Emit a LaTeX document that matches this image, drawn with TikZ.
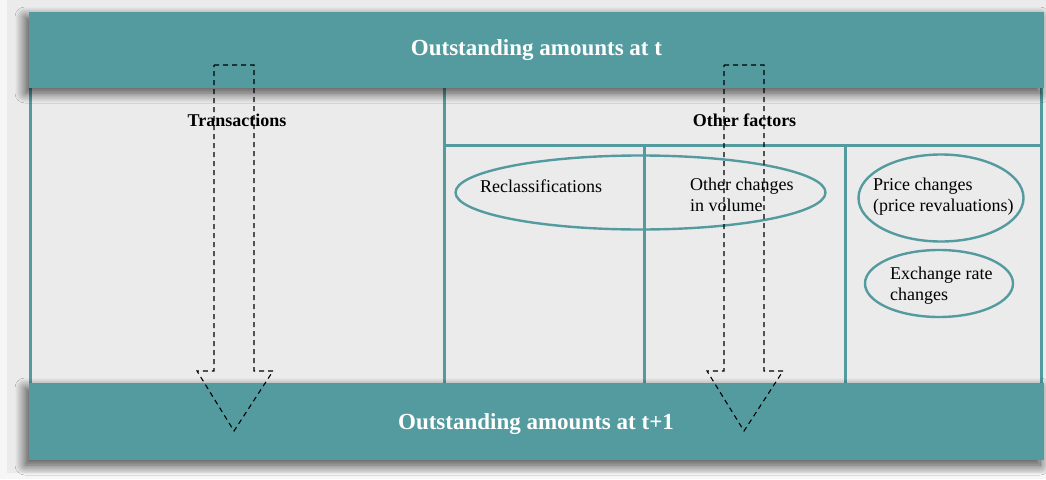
\documentclass[tikz,border=0pt]{standalone}
\usepackage{fontspec}
\setmainfont{Liberation Serif}
\usetikzlibrary{shadows.blur}
\definecolor{teal1}{HTML}{549BA0}
\definecolor{panel}{HTML}{EBEBEB}
\definecolor{outer}{HTML}{F6F6F6}
\tikzset{
  bar/.style={fill=teal1, draw=none, blur shadow={shadow xshift=-4pt, shadow yshift=-5pt, shadow blur radius=10pt, shadow blur steps=16, shadow opacity=70}},
  frameline/.style={draw=teal1, line width=3pt},
  oval/.style={draw=teal1, line width=2.4pt},
  bigtitle/.style={font=\fontsize{23}{27}\selectfont\bfseries, text=white, inner sep=0pt},
  head/.style={font=\fontsize{18}{21}\selectfont\bfseries, inner sep=0pt},
  body/.style={font=\fontsize{18}{21}\selectfont, inner sep=0pt, align=left},
  flowarrow/.style={draw=black, line width=1.1pt, dash pattern=on 5pt off 4pt}
}
\begin{document}
\begin{tikzpicture}[x=1pt,y=-1pt]
\useasboundingbox (0,0) rectangle (1046,479);
\fill[outer] (0,0) rectangle (1046,479);
\fill[panel] (7,0) rectangle (1046,473);
% frame
\fill[panel!102] (30,88) rectangle (1042,383);
\draw[frameline] (30.5,88) -- (30.5,383);
\draw[frameline] (1041.5,88) -- (1041.5,383);
\draw[frameline] (444,88) -- (444,383);
\draw[frameline] (444,145) -- (1041.5,145);
\draw[frameline] (644,145) -- (644,383);
\draw[frameline] (845,145) -- (845,383);
% bars
\path[bar] (29,12) rectangle (1044,88);
\path[bar] (29,383) rectangle (1044,460);
\node[bigtitle, anchor=base] (top) at (536.5,55) {Outstanding amounts at t};
\node[bigtitle, anchor=base] (bottom) at (536,429) {Outstanding amounts at t+1};
% headings
\node[head, anchor=base] (trans) at (237,126) {Transactions};
\node[head, anchor=base] (other) at (744.5,126) {Other factors};
% ellipses
\draw[oval] (640.5,192.5) ellipse [x radius=185, y radius=37];
\draw[oval] (941,198) ellipse [x radius=82.5, y radius=43.5];
\draw[oval] (939,283.5) ellipse [x radius=74, y radius=33.5];
% body texts
\node[body, anchor=base west] (recl) at (480,192) {Reclassifications};
\node[body, anchor=north west] (ocv) at (690,178) {Other changes\\in volume};
\node[body, anchor=north west] (price) at (873,178) {Price changes\\(price revaluations)};
\node[body, anchor=north west] (exch) at (890,267) {Exchange rate\\changes};
% arrows
\draw[flowarrow] (214,65) -- (254,65) -- (254,371) -- (273,371) -- (234,431) -- (197,371) -- (214,371) -- cycle;
\draw[flowarrow] (724,65) -- (764,65) -- (764,371) -- (783,371) -- (744,431) -- (707,371) -- (724,371) -- cycle;
\end{tikzpicture}
\end{document}
